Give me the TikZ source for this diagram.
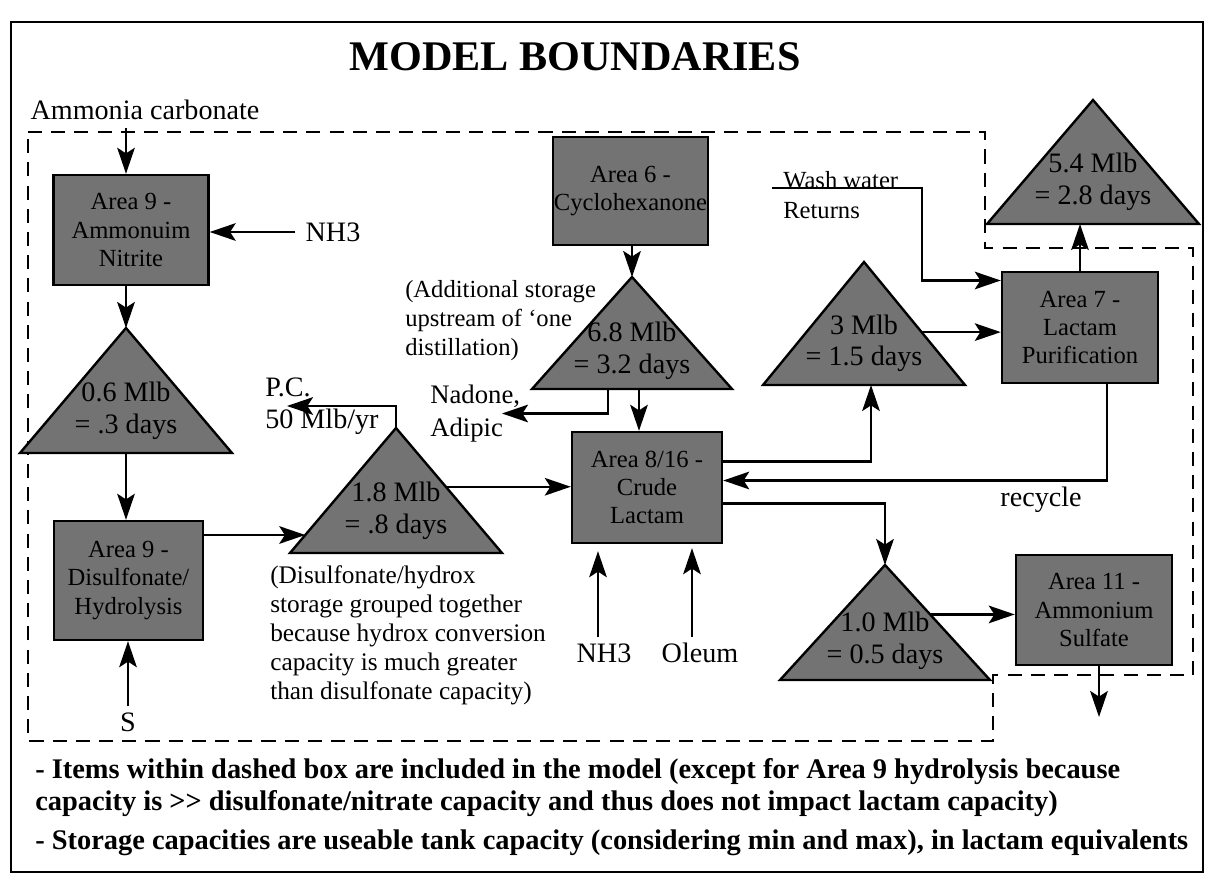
\documentclass[tikz,border=0pt]{standalone}
\usepackage{fontspec}
\setmainfont{Liberation Serif}
\usetikzlibrary{arrows.meta,calc}
\definecolor{tankgray}{gray}{0.45}
\tikzset{
  area/.style={draw, fill=tankgray, line width=1.7pt, minimum width=3.875cm, minimum height=2.75cm, align=center, inner sep=0pt, font=\fontsize{17.5}{20}\selectfont},
  tank/.style={draw, fill=tankgray, line width=1.7pt},
  tanklabel/.style={align=center, inner sep=0pt, font=\fontsize{20}{22.5}\selectfont},
  lbl/.style={inner sep=0pt, font=\fontsize{20}{22.5}\selectfont},
  remark/.style={inner sep=0pt, align=left, font=\fontsize{17.5}{20.6}\selectfont},
  bignote/.style={inner sep=0pt, anchor=west, font=\bfseries\fontsize{20.2}{24}\selectfont},
  flow/.style={-{Stealth[length=6.5mm,width=4.4mm,inset=1.4mm]}, line width=1.6pt},
  boundary/.style={line width=1.4pt, dash pattern=on 10pt off 6.5pt}
}
% storage tank: name, apex, half base, height, text
\newcommand{\tank}[5]{%
  \coordinate (#1) at (#2);
  \coordinate (#1-bl) at ($(#1)+(-#3,#4)$);
  \coordinate (#1-br) at ($(#1)+(#3,#4)$);
  \coordinate (#1-b) at ($(#1)+(0,#4)$);
  \draw[tank] (#1) -- (#1-br) -- (#1-bl) -- cycle;
  \node[tanklabel] (#1-txt) at ($(#1)+(0,0.66*#4)$) {#5};
}
\begin{document}
\begin{tikzpicture}[x=0.025cm,y=-0.025cm]
  \useasboundingbox (0,0) rectangle (1205,886);
  \draw[line width=1.5pt] (11,22) rectangle (1203,872);
  \node[inner sep=0pt, font=\bfseries\fontsize{30}{32}\selectfont] (title) at (575,57) {MODEL BOUNDARIES};

  % model boundary
  \draw[boundary] (28,132) -- (985,132) -- (985,248) -- (1193,248) -- (1193,675)
    -- (993,675) -- (993,741) -- (28,741) -- cycle;

  % process areas
  \node[area] (a9n) at (131,230) {Area 9 -\\Ammonuim\\Nitrite};
  \node[area, minimum width=3.725cm, minimum height=2.975cm] (a9d) at (128.5,580.5) {Area 9 -\\Disulfonate/\\Hydrolysis};
  \node[area, minimum height=2.7cm] (a6) at (630.5,191) {Area 6 -\\Cyclohexanone};
  \node[area, minimum width=3.75cm, minimum height=2.775cm] (a816) at (647,487.5) {Area 8/16 -\\Crude\\Lactam};
  \node[area, minimum width=3.9cm, minimum height=2.775cm] (a7) at (1080,327.5) {Area 7 -\\Lactam\\Purification};
  \node[area, minimum width=3.9cm] (a11) at (1094,610) {Area 11 -\\Ammonium\\Sulfate};

  % storage
  \tank{t06}{126,328}{106}{125}{0.6 Mlb\\= .3 days}
  \tank{t18}{396,428}{106}{125}{1.8 Mlb\\= .8 days}
  \tank{t68}{632,277}{100}{112}{6.8 Mlb\\= 3.2 days}
  \tank{t3}{864,262}{101}{123}{3 Mlb\\= 1.5 days}
  \tank{t54}{1093,100}{106}{124}{5.4 Mlb\\= 2.8 days}
  \tank{t10}{885,565}{105}{115}{1.0 Mlb\\= 0.5 days}

  % feeds and labels
  \node[lbl] (amc) at (145,110) {Ammonia carbonate};
  \node[lbl] (nh3a) at (333,232) {NH3};
  \node[lbl] (s) at (128,722) {S};
  \node[lbl, align=left, anchor=west, font=\fontsize{20}{22.8}\selectfont] (pc) at (265,406) {P.C.\\50 Mlb/yr};
  \node[lbl, align=left, anchor=west, font=\fontsize{19}{23.5}\selectfont] (nadone) at (430,413.5) {Nadone,\\Adipic};
  \node[lbl] (nh3b) at (604,653) {NH3};
  \node[lbl] (oleum) at (700,653) {Oleum};
  \node[lbl] (recycle) at (1041,500) {recycle};
  \node[remark, anchor=west, font=\fontsize{17.5}{21}\selectfont] (wash) at (783,195) {Wash water\\Returns};
  \node[remark, anchor=west] (addnote) at (405,321) {(Additional storage\\upstream of ‘one\\distillation)};
  \node[remark, anchor=west, font=\fontsize{18}{20.6}\selectfont] (disnote) at (270,635) {(Disulfonate/hydrox\\storage grouped together\\because hydrox conversion\\capacity is much greater\\than disulfonate capacity)};

  % flows
  \draw[flow] ($(amc.south -| t06)+(0,8)$) -- (a9n.north -| t06);
  \draw[flow] ($(nh3a.west)+(-10,0)$) -- (nh3a.west -| a9n.east);
  \draw[flow] (a9n.south -| t06) -- (t06);
  \draw[flow] (t06-b) -- (a9d.north -| t06-b);
  \draw[flow] ($(s.north)+(0,-6)$) -- (s.north |- a9d.south);
  \coordinate (t18in) at ($(t18)!0.856!(t18-bl)$);
  \draw[flow] (a9d.east |- t18in) -- (t18in);
  \draw[flow] (t18) |- ($(pc.west)+(22,0)$);
  \coordinate (t18out) at ($(t18)!0.47!(t18-br)$);
  \draw[flow] (t18out) -- (t18out -| a816.west);
  \draw[flow] (a6.south -| t68) -- (t68);
  \coordinate (t68d) at ($(t68-b)+(7,0)$);
  \draw[flow] (t68d) -- (t68d |- a816.north);
  \coordinate (t68n) at ($(t68-b)+(-24,0)$);
  \draw[flow] (t68n) |- ($(nadone.west)+(72,0)$);
  \draw[flow] ($(nh3b.north)+(-6,-6)$) -- ($(a816.south -| nh3b.north)+(-6,7)$);
  \draw[flow] ($(oleum.north)+(-8,-6)$) -- ($(a816.south -| oleum.north)+(-8,4)$);
  \draw[flow] ($(a816.east)+(0,-26)$) -| ($(t3-b)+(7,0)$);
  \draw[flow] ($(a7.south)+(27,0)$) |- ($(a816.east)+(0,-7)$);
  \draw[flow] ($(a816.east)+(0,16)$) -| (t10);
  \coordinate (wwin) at (772,188);
  \draw[flow] (wwin) -- ++(150,0) |- ($(a7.west)+(0,-47)$);
  \coordinate (t3out) at ($(t3)!0.57!(t3-br)$);
  \draw[flow] (t3out) -- (t3out -| a7.west);
  \draw[flow] (a7.north) -- (a7.north |- t54-b);
  \coordinate (t10out) at ($(t10)!0.43!(t10-br)$);
  \draw[flow] (t10out) -- (t10out -| a11.west);
  \coordinate (asout) at (1099,717);
  \draw[flow] (a11.south -| asout) -- (asout);

  % notes
  \node[bignote] (n1) at (35,772) {- Items within dashed box are included in the model (except for Area 9 hydrolysis because};
  \node[bignote] (n2) at (35,804) {capacity is >\kern0pt> disulfonate/nitrate capacity and thus does not impact lactam capacity)};
  \node[bignote] (n3) at (35,843) {- Storage capacities are useable tank capacity (considering min and max), in lactam equivalents};
\end{tikzpicture}
\end{document}
